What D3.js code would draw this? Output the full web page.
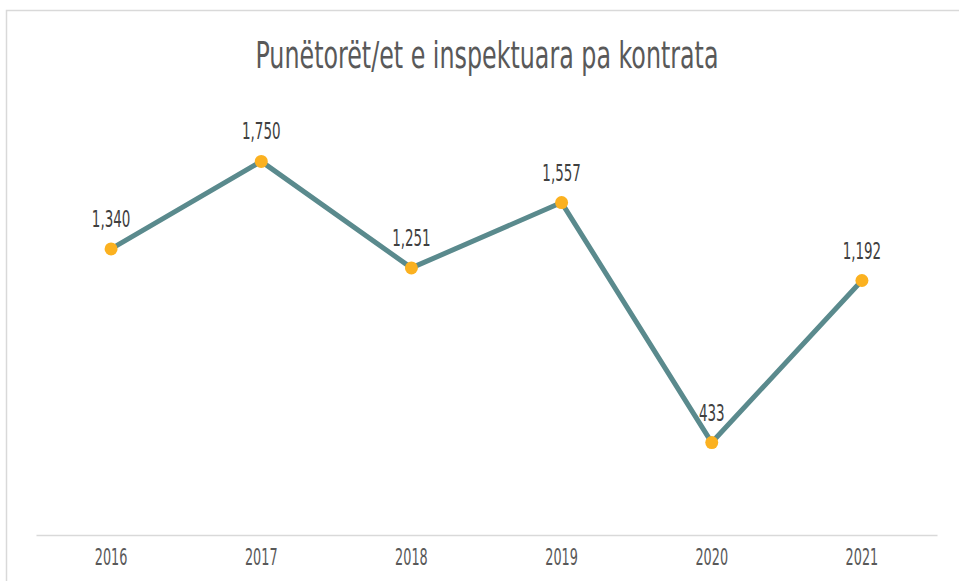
<!DOCTYPE html>
<html><head><meta charset="utf-8">
<script src="https://cdn.jsdelivr.net/npm/d3@7"></script>
<style>
html,body{margin:0;padding:0;background:#fff;}
text{font-family:"DejaVu Sans Condensed","DejaVu Sans",sans-serif;}
</style></head>
<body>
<svg id="c" width="959" height="581"></svg>
<script>
const years = ["2016","2017","2018","2019","2020","2021"];
const values = [1340, 1750, 1251, 1557, 433, 1192];
const labels = ["1,340","1,750","1,251","1,557","433","1,192"];
const title = "Punëtorët/et e inspektuara pa kontrata";

const svg = d3.select("#c");
svg.append("rect").attr("x",6.5).attr("y",10.5).attr("width",1000).attr("height",1000)
  .attr("fill","#fff").attr("stroke","#d9d9d9").attr("stroke-width",1.5);

const x = d3.scaleBand().domain(years).range([36,937]);
const y = d3.scaleLinear().domain([0,2000]).range([535,108]);
const cx = d => x(d) + x.bandwidth()/2;

function condense(sel, f) {
  sel.each(function(){
    const w = this.getComputedTextLength();
    d3.select(this).attr("textLength", w*f).attr("lengthAdjust","spacingAndGlyphs");
  });
}

svg.append("text").attr("x",487).attr("y",68).attr("text-anchor","middle")
  .attr("font-size",38).attr("fill","#595959")
  .attr("textLength",463).attr("lengthAdjust","spacingAndGlyphs").text(title);

const ax = svg.append("g").attr("transform","translate(0,535)")
  .call(d3.axisBottom(x).tickSize(0).tickPadding(14));
ax.select(".domain").attr("stroke","#d9d9d9").attr("stroke-width",1.5);
ax.selectAll("text").attr("font-size",23).attr("fill","#595959")
  .style("font-family",'"DejaVu Sans Condensed","DejaVu Sans",sans-serif');
condense(ax.selectAll("text"), 0.62);

const line = d3.line().x((d,i)=>cx(years[i])).y(d=>y(d));
svg.append("path").datum(values).attr("d",line).attr("fill","none")
  .attr("stroke","#5a8a8d").attr("stroke-width",5).attr("stroke-linejoin","round").attr("stroke-linecap","round");

svg.selectAll("circle.m").data(values).join("circle").attr("class","m")
  .attr("cx",(d,i)=>cx(years[i])).attr("cy",d=>y(d)).attr("r",6.5).attr("fill","#fbb120");

const lbl = svg.selectAll("text.lbl").data(values).join("text").attr("class","lbl")
  .attr("x",(d,i)=>cx(years[i])).attr("y",d=>y(d)-22).attr("text-anchor","middle")
  .attr("font-size",23).attr("fill","#404040").text((d,i)=>labels[i]);
condense(lbl, 0.65);
</script>
</body></html>
